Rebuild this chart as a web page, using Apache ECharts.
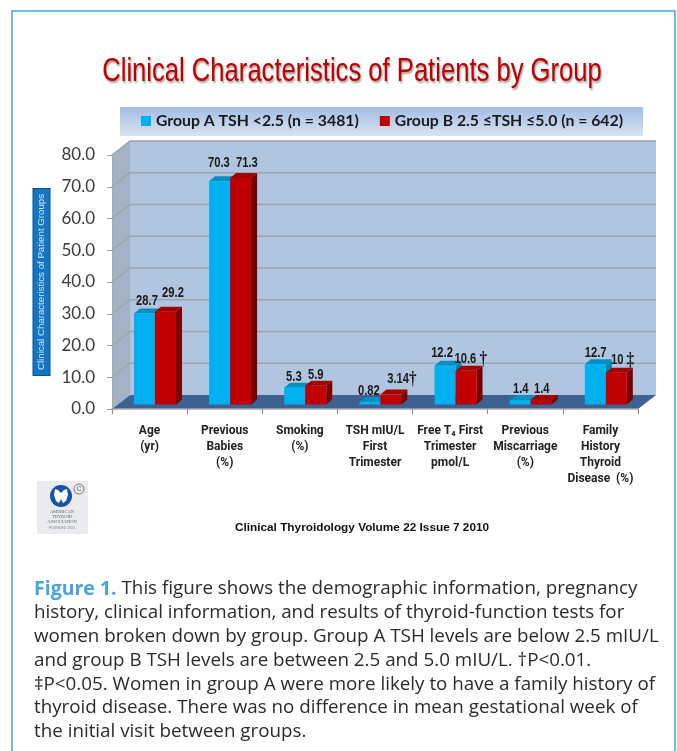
<!DOCTYPE html>
<html>
<head>
<meta charset="utf-8">
<style>
  html, body { margin: 0; padding: 0; background: #fff; }
  #chart-container { width: 677px; height: 751px; }
</style>
<script src="https://cdn.jsdelivr.net/npm/echarts@6/dist/echarts.min.js"></script>
</head>
<body>
<div id="chart-container"></div>
<script>
const categories = [
  "Age\n(yr)",
  "Previous\nBabies\n(%)",
  "Smoking\n(%)",
  "TSH mIU/L\nFirst\nTrimester",
  "Free T₄ First\nTrimester\npmol/L",
  "Previous\nMiscarriage\n(%)",
  "Family\nHistory\nThyroid\nDisease  (%)",
];
const groupA = [28.7, 70.3, 5.3, 0.82, 12.2, 1.4, 12.7];
const groupB = [29.2, 71.3, 5.9, 3.14, 10.6, 1.4, 10];
const labelsA = ["28.7", "70.3", "5.3", "0.82", "12.2", "1.4", "12.7"];
const labelsB = ["29.2", "71.3", "5.9", "3.14{d|†}", "10.6 {d|†}", "1.4", "10 {d|‡}"];
const yTicks = [0, 10, 20, 30, 40, 50, 60, 70, 80];
const nameA = "Group A TSH <2.5 (n = 3481)";
const nameB = "Group B 2.5 ≤TSH ≤5.0 (n = 642)";
const captionLines = [
  "{fig|Figure 1.} This figure shows the demographic information, pregnancy",
  "history, clinical information, and results of thyroid-function tests for",
  "women broken down by group. Group A TSH levels are below 2.5 mIU/L",
  "and group B TSH levels are between 2.5 and 5.0 mIU/L. †P<0.01.",
  "‡P<0.05. Women in group A were more likely to have a family history of",
  "thyroid disease. There was no difference in mean gestational week of",
  "the initial visit between groups.",
];

// hand placed label nudges, the original labels do not sit evenly over the bars
const nudgeA = [[2.5, -12.4], [-0.7, -18.3], [-0.9, -10.7], [-1, -11], [-3, -12.8], [0.5, -11], [0.3, -11.2]];
const nudgeB = [[7.5, -18.8], [6.3, -15], [0, -10.7], [11, -15.5], [4.7, -11.8], [0.5, -11], [6.3, -12.7]];

// fake 3d depth of the chart box and of the bars
const DEPTH_X = 18;
const DEPTH_Y = -14;
const BAR_DX = 6;
const BAR_DY = -5;

function renderBox(params, api) {
  const cs = params.coordSys;
  const l = cs.x, r = cs.x + cs.width, t = cs.y, b = cs.y + cs.height;
  const children = [
    { type: "polygon", shape: { points: [[l + DEPTH_X, b + DEPTH_Y], [r + DEPTH_X, b + DEPTH_Y], [r + DEPTH_X, t + DEPTH_Y], [l + DEPTH_X, t + DEPTH_Y]] }, style: { fill: "#b0c6e0" } },
    { type: "polygon", shape: { points: [[l, b], [l + DEPTH_X, b + DEPTH_Y], [l + DEPTH_X, t + DEPTH_Y], [l, t]] }, style: { fill: "#a5b2c6" } },
  ];
  yTicks.forEach((tick) => {
    const y = api.coord([0, tick])[1];
    if (tick > 0) {
      children.push({
        type: "polyline",
        shape: { points: [[l, y], [l + DEPTH_X, y + DEPTH_Y], [r + DEPTH_X, y + DEPTH_Y]] },
        style: { fill: null, stroke: "#9ca4ae", lineWidth: 1.3 },
      });
    }
  });
  children.push({
    type: "polygon",
    shape: { points: [[l, b], [r, b], [r + DEPTH_X, b + DEPTH_Y], [l + DEPTH_X, b + DEPTH_Y]] },
    style: { fill: "#3d6190" },
  });
  return { type: "group", children: children };
}

function barRenderer(left, right, colors, labels, nudge) {
  return function (params, api) {
    const idx = api.value(0);
    const val = api.value(1);
    const center = api.coord([idx, 0])[0];
    const base = api.coord([idx, 0])[1] - 4.5;
    const top = api.coord([idx, val])[1] - 4.5;
    const x0 = center + left;
    const x1 = center + right;
    return {
      type: "group",
      children: [
        { type: "polygon", shape: { points: [[x1, base], [x1 + BAR_DX, base + BAR_DY], [x1 + BAR_DX, top + BAR_DY], [x1, top]] }, style: { fill: colors[2] } },
        { type: "polygon", shape: { points: [[x0, top], [x1, top], [x1 + BAR_DX, top + BAR_DY], [x0 + BAR_DX, top + BAR_DY]] }, style: { fill: colors[1] } },
        { type: "rect", shape: { x: x0, y: top, width: x1 - x0, height: base - top }, style: { fill: colors[0] } },
        {
          type: "text",
          x: (x0 + x1) / 2 + nudge[idx][0],
          y: top + nudge[idx][1],
          scaleX: 0.8,
          style: {
            text: labels[idx],
            fill: "#1a1a1a",
            font: "bold 14px 'Liberation Sans'",
            align: "center",
            verticalAlign: "middle",
            rich: { d: { font: "bold 19px 'Liberation Serif'", fill: "#1a1a1a" } },
          },
        },
      ],
    };
  };
}

const logo = [
  { type: "rect", shape: { x: 37, y: 481, width: 51, height: 53 }, style: { fill: "#e9ebef" } },
  { type: "circle", shape: { cx: 61, cy: 496, r: 11 }, style: { fill: "#1a52a8" } },
  { type: "polygon", shape: { points: [[55, 489], [58, 490], [61, 493], [64, 490], [67, 489], [68, 495], [66, 501], [63, 503], [61, 499], [59, 503], [56, 501], [54, 495]] }, style: { fill: "#fff" } },
  { type: "circle", shape: { cx: 79, cy: 489, r: 5 }, style: { fill: "#e9ebef", stroke: "#777", lineWidth: 1 } },
  { type: "text", style: { x: 79, y: 489, text: "C", fill: "#666", font: "7px 'Liberation Sans'", align: "center", verticalAlign: "middle" } },
  { type: "text", style: { x: 62, y: 512, text: "AMERICAN", fill: "#666", font: "4.5px 'Liberation Serif'", align: "center", verticalAlign: "middle" } },
  { type: "text", style: { x: 62, y: 517, text: "THYROID", fill: "#666", font: "4.5px 'Liberation Serif'", align: "center", verticalAlign: "middle" } },
  { type: "text", style: { x: 62, y: 522, text: "ASSOCIATION", fill: "#666", font: "4.5px 'Liberation Serif'", align: "center", verticalAlign: "middle" } },
  { type: "text", style: { x: 62, y: 528, text: "FOUNDED 1923", fill: "#888", font: "3.5px 'Liberation Sans'", align: "center", verticalAlign: "middle" } },
];

const caption = captionLines.map((line, i) => ({
  type: "text",
  style: {
    x: 34,
    y: 589 + i * 23.8,
    text: line,
    fill: "#2b2b2b",
    font: "18.8px 'Open Sans'",
    verticalAlign: "middle",
    rich: {
      fig: { fill: "#4ba3dc", font: "bold 19.5px 'Open Sans'" },
    },
  },
}));

var dom = document.getElementById("chart-container");
var myChart = echarts.init(dom, null, { renderer: "canvas" });

var option = {
  animation: false,
  backgroundColor: "#ffffff",
  legend: {
    data: [nameA, nameB],
    left: 136,
    top: 108,
    itemWidth: 10,
    itemHeight: 10,
    itemGap: 21,
    icon: "rect",
    textStyle: { fontFamily: "Lato", fontWeight: "bold", fontSize: 15.8, color: "#1a1a1a" },
  },
  grid: { left: 112, top: 155, width: 526, height: 254 },
  xAxis: {
    type: "category",
    data: categories,
    axisTick: { show: true, alignWithLabel: false, length: 5, lineStyle: { color: "#8a8a8a" } },
    axisLine: { lineStyle: { color: "#a8a8a8", width: 1.5 } },
    axisLabel: {
      interval: 0,
      margin: 14,
      fontFamily: "Roboto",
      fontWeight: "bold",
      fontSize: 12,
      lineHeight: 16,
      color: "#222",
    },
    z: 5,
  },
  yAxis: {
    type: "value",
    min: 0,
    max: 80,
    interval: 10,
    name: "Clinical Characteristics of Patient Groups",
    nameLocation: "middle",
    nameRotate: 90,
    nameGap: 62,
    nameTextStyle: {
      fontFamily: "Liberation Sans",
      fontSize: 9.7,
      color: "#d5e6f5",
      backgroundColor: "#1276c4",
      borderColor: "#0d4f86",
      borderWidth: 1,
      padding: [3, 5, 3, 5],
    },
    axisLine: { show: true, lineStyle: { color: "#a8a8a8" } },
    axisTick: { show: true, length: 5, lineStyle: { color: "#a0a0a0" } },
    axisLabel: {
      margin: 17,
      fontFamily: "Lato",
      fontSize: 17,
      color: "#3c3c3c",
      padding: [8, 0, 0, 0],
      formatter: (v) => v.toFixed(1),
    },
    splitLine: { show: false },
    z: 5,
  },
  graphic: [
    {
      type: "rect",
      z: -1,
      shape: { x: 120, y: 107, width: 523, height: 29 },
      style: {
        fill: new echarts.graphic.LinearGradient(0, 0, 0, 1, [
          { offset: 0, color: "#a3bde3" },
          { offset: 1, color: "#d8e2f3" },
        ]),
      },
    },
    { type: "rect", shape: { x: 12, y: 11, width: 663, height: 760 }, style: { fill: null, stroke: "#4ba3dc", lineWidth: 1.5 } },
    {
      // the original title is a squeezed arial, no narrow font here so scale it
      type: "text",
      x: 352,
      y: 72,
      scaleX: 0.776,
      style: {
        text: "Clinical Characteristics of Patients by Group",
        font: "33px 'Liberation Sans'",
        fill: "#c00000",
        align: "center",
        verticalAlign: "middle",
        textShadowColor: "rgba(90,90,90,0.6)",
        textShadowBlur: 2,
        textShadowOffsetX: 1,
        textShadowOffsetY: 2,
      },
    },
    {
      type: "text",
      style: { x: 362, y: 528, text: "Clinical Thyroidology Volume 22 Issue 7 2010", fill: "#111", font: "bold 11.8px 'Liberation Sans'", align: "center", verticalAlign: "middle" },
    },
    ...logo,
    ...caption,
  ],
  series: [
    {
      name: "box",
      type: "custom",
      renderItem: renderBox,
      data: [[0, 0]],
      silent: true,
      clip: false,
      z: 1,
    },
    {
      name: nameA,
      type: "custom",
      renderItem: barRenderer(-15.6, 5.4, ["#00b0f0", "#0090c4", "#0084b4"], labelsA, nudgeA),
      itemStyle: { color: "#00b0f0" },
      data: groupA.map((v, i) => [i, v]),
      encode: { x: 0, y: 1 },
      clip: false,
      z: 3,
    },
    {
      name: nameB,
      type: "custom",
      renderItem: barRenderer(5.4, 26.4, ["#c00000", "#a30000", "#7a0000"], labelsB, nudgeB),
      itemStyle: { color: "#c00000" },
      data: groupB.map((v, i) => [i, v]),
      encode: { x: 0, y: 1 },
      clip: false,
      z: 4,
    },
  ],
};

myChart.setOption(option);
window.addEventListener("resize", myChart.resize);
</script>
</body>
</html>
